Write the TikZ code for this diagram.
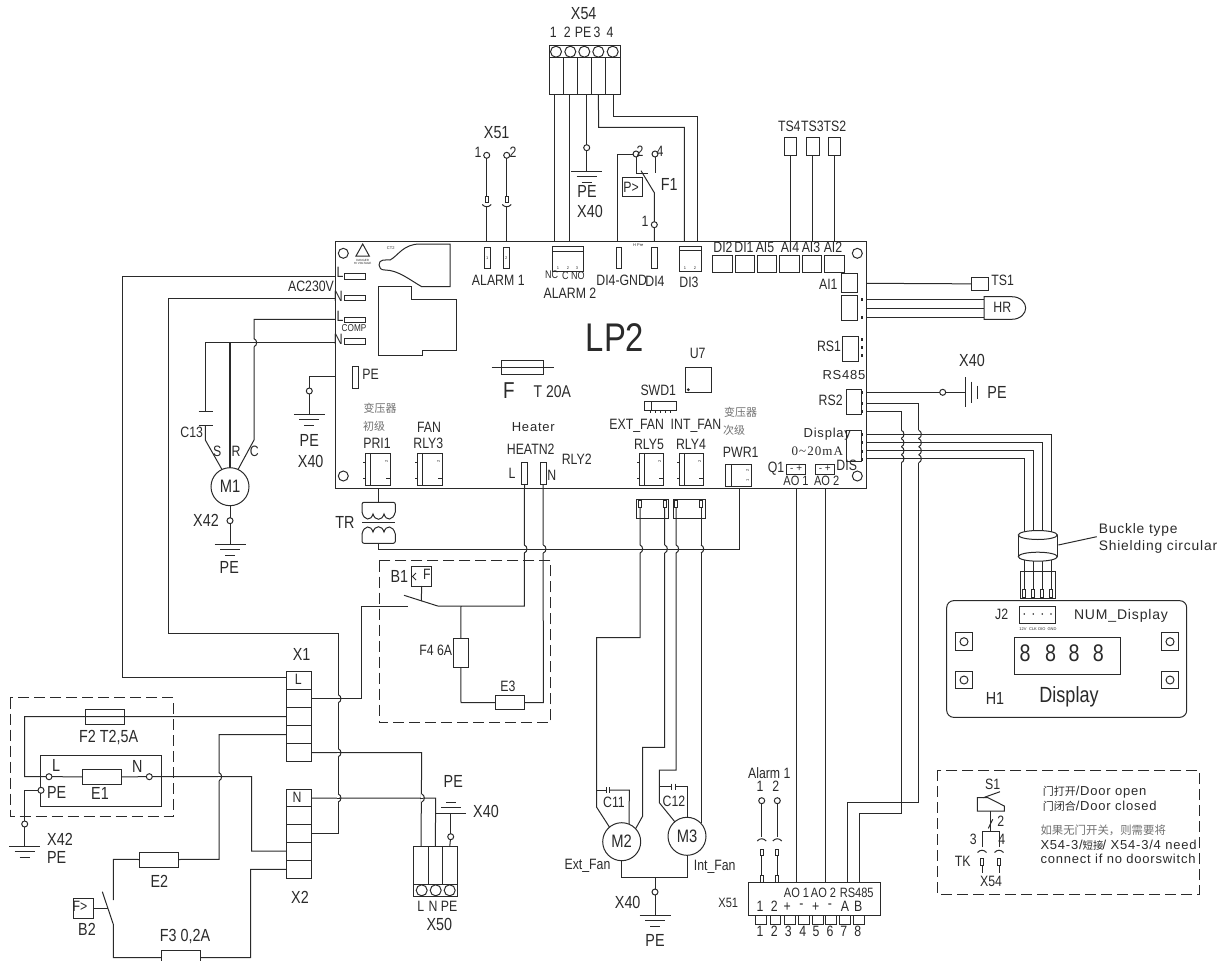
\documentclass[tikz,border=0pt]{standalone}
\usepackage{fontspec}
\setmainfont{Liberation Sans}
\newfontfamily\lblfam[FakeStretch=0.82]{Liberation Sans}
\newfontfamily\widefam[LetterSpace=6]{Liberation Sans}
\newfontfamily\serfam[LetterSpace=8]{Liberation Serif}
\newfontfamily\cjk{Noto Sans CJK SC}
\definecolor{wirecol}{HTML}{2A2A2A}
\definecolor{cjkgray}{HTML}{707070}
\tikzset{
  part/.style={draw, inner sep=0pt, outer sep=0pt},
  term/.style={draw, circle, fill=white, inner sep=0pt, outer sep=0pt, minimum size=6pt},
  screw/.style={draw, circle, inner sep=0pt, outer sep=0pt, minimum size=11pt},
  mount/.style={draw, circle, inner sep=0pt, outer sep=0pt, minimum size=10pt},
  motor/.style={draw, circle, inner sep=0pt, outer sep=0pt, minimum size=38pt, font=\lblfam\fontsize{18}{18}\selectfont},
  lab/.style={inner sep=0pt, font=\lblfam\fontsize{15}{15}\selectfont},
  smlab/.style={inner sep=0pt, font=\lblfam\fontsize{13.5}{14}\selectfont},
  biglab/.style={inner sep=0pt, font=\lblfam\fontsize{17.5}{18}\selectfont},
  widelab/.style={inner sep=0pt, font=\widefam\fontsize{13}{13}\selectfont},
  pinlab/.style={inner sep=0pt, font=\fontsize{4}{4}\selectfont},
  cjklab/.style={inner sep=0pt, text=cjkgray, font=\cjk\fontsize{11}{11}\selectfont},
  doorlab/.style={inner sep=0pt, anchor=west, font=\widefam\fontsize{13}{13}\selectfont},
  earth/.pic={\draw (-15.5,0) -- (15.5,0); \draw (-10,5.5) -- (10,5.5); \draw (-5,11) -- (5,11);},
  cup/.pic={\draw (-4.5,-1.5) .. controls (-2,1.5) and (2,1.5) .. (4.5,-1.5);},
  hop/.pic={\fill[white] (-1,-4) rectangle (1,4); \draw (-1.5,0) -- (1.5,0);
    \draw (0,-4) .. controls (3.5,-3) and (3.5,3) .. (0,4);},
}

\begin{document}
\begin{tikzpicture}[x=1pt,y=-1pt,line width=1pt,color=wirecol]
\clip (0,0) rectangle (1229,961);

\foreach \nm/\xa/\ya/\xb/\yb in {
  board/335/241/866/488, x54a/549/57.7/563.3/94.3, x54b/563.3/57.7/577.3/94.3, x54c/577.3/57.7/591.3/94.3,
  x54d/591.3/57.7/605.3/94.3, x54e/605.3/57.7/620.7/94.3, x54h/549/45/620.7/57.7,
  almx/485.2/196/488.2/202, almy/505.2/196/508.2/202, alma/484.3/247.3/490.3/268.7, almb/503.3/247.3/509.3/268.7,
  alrm/552.3/246.7/583.3/271.7, digd/616/247.3/621.7/268.7, dif/651.7/247.3/657.3/268.7, dith/679.7/246/701.7/271.7,
  pbox/622.3/177.3/642.7/196.7, ts4/784/137.7/796/155.3, ts3/806.7/137.7/819/155.3, ts2/828.7/137.7/840.7/155.3, ts1/971.7/277.7/988.3/290,
  di2/712.7/255.7/732.3/272.3, di1/735.3/255.7/754.7/272.3, ai5/757.3/255.7/776.7/272.3, ai4/779.7/255.7/799.3/272.3,
  ai3/802.3/255.7/821.7/272.3, ai2/824.3/255.7/844/272.3, ai1/841.7/273.3/857.3/292.3, hrc/841.7/295.3/857.3/320,
  rs1/842.7/336.7/858.3/361.3, rs2/846/389.3/861.7/414.3, dis/846.7/430/861.7/461.3, aoa/786.7/464.3/805.7/474.3, aob/815.3/464.3/834.3/474.3,
  slotl/344/273.7/365.7/279.3, slotn/344/295.7/365.7/300.7, slotcl/344/317/365.7/322.3, slotcn/344/338.7/365.7/344.3, slotpe/352.3/366.7/358.3/388.3,
  fuse/501.3/360.3/543.3/374.3, useven/685.3/367/711.3/392.3, swd/644/401.7/676.7/410.7,
  heatl/521.3/462.7/527.7/484.3, heatn/540.3/462.7/546/484.3,
  rlya/636.7/499.3/668.3/518.3, rlyb/673/499.3/705/518.3, slota/638.5/500.7/641.5/507.3, slotb/663.2/500.7/666.2/507.3, slotc/674.5/500.7/677.5/507.3, slotd/699.5/500.7/702.5/507.3,
  bbox/411.7/566.7/431.7/586, ffour/453.3/638.3/468.3/667.7, ethree/495.7/695.3/524.3/709.7,
  x1a/286.7/671.7/311.7/689.7, x1b/286.7/689.7/311.7/707.7, x1c/286.7/707.7/311.7/725.7, x1d/286.7/725.7/311.7/743.7, x1e/286.7/743.7/311.7/761.7,
  x2a/286.7/789/311.7/806, x2b/286.7/806/311.7/824, x2c/286.7/824/311.7/842, x2d/286.7/842/311.7/860, x2e/286.7/860/311.7/878.7,
  ftwo/85/709.3/124/724.3, eone/82.3/769.3/121.3/784.3, einner/40.7/755/161.7/806, etwo/139.3/852/178.3/867, bboxb/73.3/898.3/93.3/918.3, fthree/161.3/950.7/200/964.7,
  x50a/413.7/846/428.3/884, x50b/428.3/846/442.3/884, x50c/442.3/846/457.3/884, x50h/413.7/884/457.3/896.7,
  xblock/748.3/882.7/880.7/915, alx/760.2/849.3/763.2/855, aly/775.8/849.3/778.8/855, alu/760.2/875/763.2/882.7, alv/775.8/875/778.8/882.7,
  pina/755.7/915/766.7/924, pinb/770/915/780.7/924, pinc/784/915/795/924, pind/798/915/809/924, pine/812/915/823/924, pinf/825.7/915/836.7/924, ping/839.3/915/850.7/924, pinh/853.3/915/864.7/924,
  jplug/1020/571.7/1055/598.3, ja/1022.8/589.3/1025.8/597.7, jb/1031.8/589.3/1034.8/597.7, jc/1040.8/589.3/1043.8/597.7, jd/1049.5/589.3/1052.5/597.7,
  jtwo/1019/606/1055.7/623.3, window/1014/637.7/1120.3/674,
  tka/980.5/858.3/983.5/865, tkb/997.5/858.3/1000.5/865
}
  \node[part, minimum width={(\xb-\xa)*1pt}, minimum height={(\yb-\ya)*1pt}] (\nm) at ({(\xa+\xb)/2},{(\ya+\yb)/2}) {};

\node[part, rounded corners=7pt, minimum width=240pt, minimum height=116.7pt] (numdis) at (1066.7,659) {};
\foreach \nm/\xa/\xb in {pri/365.3/390, rlyt/417.3/442, rlyf/639.3/663.3, rlyg/679/703.3} {
  \node[part, minimum width={(\xb-\xa)*1pt}, minimum height=32.4pt] (\nm) at ({(\xa+\xb)/2},469.5) {};
  \draw ([xshift=5.5pt]\nm.north west) -- ([xshift=5.5pt]\nm.south west);
  \draw ([yshift=-9pt]\nm.north west) -- ++(-2.5,0);
  \draw ([yshift=7pt]\nm.south east) -- ++(-4,0);
  \draw ([yshift=7pt]\nm.south west) -- ++(-2.5,0);
  \node[pinlab, rotate=90] (\nm-two) at ([xshift=-3.5pt,yshift=-8pt]\nm.north east) {2};
}
\node[part, minimum width=25.7pt, minimum height=21.7pt] (pwr) at (738.2,475.2) {};
\draw ([xshift=6pt]pwr.north west) -- ([xshift=6pt]pwr.south west);
\node[pinlab, rotate=90] (pwr-two) at ([xshift=-3.5pt,yshift=-6pt]pwr.north east) {2};
\node[pinlab, rotate=90] (pwr-one) at ([xshift=-3.5pt,yshift=6pt]pwr.south east) {1};

\foreach \nm/\x/\y in {
  tXa/486.7/155.3, tXb/506.7/155.3, tPe/586.7/147.7, tFa/636/154, tFb/655/154, tFc/654.3/224.7,
  tMa/230/520.7, tGa/309.3/391, tRs/942.7/392.3, tGb/24.7/824, tEl/49/776.7, tEn/149.3/776.7, tEp/41/790.3,
  tGc/450.7/836.7, tMb/655/892, tAa/761.7/800.7, tAb/777.3/800.7
}
  \node[term] (\nm) at (\x,\y) {};

\foreach \nm/\x/\y in {
  sa/556/51.7, sb/570.3/51.7, sc/584.3/51.7, sd/598.3/51.7, se/612.7/51.7,
  sf/421.7/890.3, sg/435.7/890.3, sh/449.7/890.3
}
  \node[screw] (\nm) at (\x,\y) {};

\foreach \nm/\x/\y in {mha/343.3/253.3, mhb/857.3/253.3, mhc/343.3/476, mhd/857.3/476}
  \node[mount] (\nm) at (\x,\y) {};

\foreach \nm/\x/\y in {boxa/964/641.7, boxb/964/680, boxc/1170/641.7, boxd/1170/680} {
  \node[part, minimum size=17.5pt] (\nm) at (\x,\y) {};
  \node[draw, circle, inner sep=0pt, minimum size=8pt] (\nm-hole) at (\x,\y) {};
}

\foreach \nm/\x/\y in {
  brdL/335/276.3, brdN/335/298.3, brdCL/335/319.3, brdCN/335/342.7, brdPe/335/376.3,
  brdTa/866/283.3, brdHa/866/299, brdHb/866/308, brdHc/866/317, brdRa/866/392.3, brdRb/866/403.3, brdRc/866/411.3,
  brdDa/866/434.3, brdDb/866/442.7, brdDc/866/450.7, brdDd/866/458.7,
  hrA/984/299, hrB/984/308, hrC/984/317, xoneL/286.7/677.7, xtwoN/311.7/798,
  capA/205.3/411, capB/205.3/425, capC/606.7/790, capD/609.3/790, capE/671.7/786.7, capF/675/786.7,
  swAa/408/606, swAb/437.7/606, swAc/404/595.3, swBa/113.3/900, swBb/113.3/924.3, swBc/102.3/891.7,
  rsBar/965.7/392.3
}
  \coordinate (\nm) at (\x,\y);

\node[motor] (mone) at (230,486.7) {M1};
\node[motor] (mtwo) at (621.7,841.7) {M2};
\node[motor] (mthree) at (687,836.3) {M3};

\draw (x54a.south) ++(-2,0) -- ++(0,146.7);
\draw (x54b.south) ++(-1,0) -- ++(0,146.7);
\draw (x54c.south) ++(2.4,0) -- (tPe);
\draw (tPe) -- (586.7,171.3);
\pic at (586.7,171.3) {earth};
\draw (x54d.south) -- (598.7,127.3) -- (684.3,127.3) -- (684.3,241);
\draw (x54e.south) -- (613,116.7) -- (697.7,116.7) -- (697.7,241);

\draw (tXa) -- (almx.north); \draw (tXb) -- (almy.north);
\draw (486.7,207) -- (486.7,241); \draw (506.7,207) -- (506.7,241);
\pic at (486.7,206) {cup}; \pic at (506.7,206) {cup};

\draw (tFa) -- (617.7,154) -- (617.7,241);
\draw (tFa) -- (636,173) -- (648.3,173);
\draw (tFb) -- (655,173);
\draw (641,170.7) -- (654.3,192.7) -- (tFc) -- (tFc |- board.north);

\foreach \nm in {ts4,ts3,ts2}
  \draw (\nm.south) -- (\nm.south |- board.north);

\draw (brdTa) -- (ts1.west);
\draw (brdHa) -- (hrA); \draw (brdHb) -- (hrB); \draw (brdHc) -- (hrC);
\draw (1011.7,296.7) -- (984,296.7) -- (984,319.3) -- (1011.7,319.3) .. controls (1021,319.3) and (1025.7,313) .. (1025.7,308) .. controls (1025.7,303) and (1021,296.7) .. (1011.7,296.7);

\draw (brdRa) -- (tRs) -- (rsBar);
\draw (965.7,377.3) -- (965.7,407.3);
\draw (971.7,381.7) -- (971.7,403.3);
\draw (977.3,385.7) -- (977.3,399);
\draw (brdRb) -- (918.7,403.3) -- (918.7,802.3) -- (847.3,802.3) -- (847.3,882.7);
\draw (brdRc) -- (901.3,411.3) -- (901.3,813.7) -- (859.3,813.7) -- (859.3,882.7);
\draw (brdDa) -| (jd.north);
\draw (brdDb) -| (jc.north);
\draw (brdDc) -| (jb.north);
\draw (brdDd) -| (ja.north);
\foreach \hx in {901.3,918.7}
  \foreach \hy in {434.3,442.7,450.7,458.7}
    \pic at (\hx,\hy) {hop};

\fill[white] (1018.3,535) rectangle (1057.3,556.7);
\draw (1018.3,535) -- (1018.3,556.7); \draw (1057.3,535) -- (1057.3,556.7);
\filldraw[fill=white] (1037.8,535) ellipse [x radius=19.5, y radius=4.5];
\filldraw[fill=white] (1037.8,556.7) ellipse [x radius=19.5, y radius=4.5];
\coordinate (ringEnd) at (1058.3,545);
\coordinate (buckEnd) at (1096.7,536.7);
\draw (ringEnd) -- (buckEnd);

\draw (796.7,488) -- (796.7,882.7);
\draw (825,488) -- (825,882.7);
\draw (tAa) -- (761.7,837); \draw (tAb) -- (777.3,837);
\pic[rotate=180] at (761.7,839.5) {cup}; \pic[rotate=180] at (777.3,839.5) {cup};
\draw (alx.south) -- (alu.north); \draw (aly.south) -- (alv.north);

\draw (brdL) -- (122.7,276.3) -- (122.7,677.7) -- (xoneL);
\draw (x2c.east) -- (338.3,833) -- (338.3,633.7) -- (168.7,633.7) -- (168.7,298.3) -- (brdN);
\draw (brdCL) -- (254,319.3) -- (254,440) -- (mone.65);
\draw (brdCN) -- (205.3,342.7) -- (capA);
\draw ([xshift=-6.7pt]capA) -- ([xshift=7.4pt]capA);
\draw ([xshift=-6.7pt]capB) -- ([xshift=7.4pt]capB);
\draw (capB) -- (205.3,440) -- (mone.115);
\draw[line width=1.4pt] (230,342.7) -- (mone.north);
\pic at (254,342.7) {hop};
\draw (mone.south) -- (tMa) -- (230,544);
\pic at (230,544) {earth};
\draw (brdPe) -- (309.3,376.3) -- (tGa) -- (309.3,414);
\pic at (309.3,414) {earth};

\draw (378.3,488) -- (378.3,502.3);
\draw[rounded corners=2pt] (362,512) -- (362,502.3) -- (395.3,502.3) -- (395.3,512);
\draw (362,512) .. controls (364,521) and (371,521) .. (373,514) .. controls (375,521) and (382,521) .. (384,514) .. controls (386,521) and (393,521) .. (395.3,512);
\draw (362,522.3) -- (395.3,522.3);
\draw (362,534) .. controls (364,525) and (371,525) .. (373,532) .. controls (375,525) and (382,525) .. (384,532) .. controls (386,525) and (393,525) .. (395.3,534);
\draw[rounded corners=2pt] (362,534) -- (362,543.3) -- (395.3,543.3) -- (395.3,534);
\draw (378.3,543.3) -- (378.3,549) -- (739.3,549) -- (739.3,488);

\draw (heatl.south) -- (524.3,606) -- (swAb);
\draw (swAb) -- (swAc);
\draw (x1b.east) -- (361,698.7) -- (361,606) -- (swAa);
\draw (bbox.south) -- (421.3,601);
\draw (461,606) -- (ffour.north);
\draw (ffour.south) -- (461,702.5) -- (ethree.west);
\draw (ethree.east) -- (543.3,702.5) -- (heatn.south);
\pic at (524.3,549) {hop}; \pic at (543.3,549) {hop};
\draw[dash pattern=on 11pt off 5pt] (379,560.7) rectangle (550.7,722.7);

\draw (x1c.west) -- (24.7,716.7) -- (24.7,776.7) -- (tEl) -- (eone.west);
\draw (eone.east) -- (tEn) -- (251.7,776.7) -- (251.7,851) -- (x2d.west);
\draw (tEp) -- (24.7,790.3) -- (tGb) -- (24.7,846);
\pic at (24.7,846) {earth};
\draw (x1d.west) -- (219,734.7) -- (219,859.3) -- (etwo.east);
\pic at (219,776.7) {hop};
\draw (etwo.west) -- (113.3,859.3) -- (swBa);
\draw (swBc) -- (swBb) -- (113.3,957.7) -- (fthree.west);
\draw (bboxb.east) -- (107.5,908.3);
\draw (fthree.east) -- (250.7,957.7) -- (250.7,869.3) -- (x2e.west);
\draw[dash pattern=on 11pt off 5pt] (10,697.7) rectangle (173.3,816);

\draw (x1e.east) -- (421.7,752.7) -- (x50a.north);
\draw (xtwoN) -- (435.7,798) -- (x50b.north);
\draw (tGc) -- (450.7,813.3); \draw (tGc) -- (x50c.north);
\pic[rotate=180] at (450.7,813.3) {earth};
\foreach \hy in {698.7,752.7,798} \pic at (338.3,\hy) {hop};
\pic at (421.7,798) {hop};

\draw (slota.south) -- (640,637.7) -- (596.7,637.7) -- (596.7,807.3) -- (mtwo.130);
\draw (slotb.south) -- (664.7,747.3) -- (642.7,747.3) -- (642.7,816) -- (mtwo.43);
\draw (slotc.south) -- (676,770) -- (659.3,770) -- (659.3,802.7) -- (mthree.130);
\draw (slotd.south) -- (701,822.7);
\foreach \hx in {640,664.7,676,701} \pic at (\hx,549) {hop};
\draw (596.7,790) -- (capC);
\draw (606.7,787) -- (606.7,793); \draw (609.3,787) -- (609.3,793);
\draw (capD) -- (629.3,790) -- (mtwo.67);
\draw (659.3,786.7) -- (capE);
\draw (671.7,783.7) -- (671.7,789.7); \draw (675,783.7) -- (675,789.7);
\draw (capF) -- (687,786.7) -- (mthree.north);
\draw (mtwo.south) -- (621.7,877) -- (687,877) -- (mthree.south);
\draw (655,877) -- (tMb) -- (655,915);
\pic at (655,915) {earth};

% door switch
\draw[dash pattern=on 11pt off 5pt] (937.3,770) rectangle (1199.3,894);
\draw (988,797.7) -- (977.3,797.7) -- (977.3,811) -- (1004.3,811) -- (1004.3,806) -- (988,797.7);
\draw (983.3,797.7) -- (1000,791.7);
\draw (990.7,811) -- (990.7,831);
\draw (988.3,828.3) -- (992.7,819.3);
\draw (982,847) -- (982,831) -- (999,831) -- (999,847);
\pic[rotate=180] at (982,851) {cup}; \pic[rotate=180] at (999,851) {cup};
\draw (tka.south) -- (982,873.3); \draw (tkb.south) -- (999,873.3);

% inner details of the board
\draw (379,265) .. controls (379,259) and (385,260) .. (390,260) .. controls (398,256) and (403,244) .. (420,244) -- (450,244) -- (450,286.7) -- (421.7,286.7) .. controls (410,280) and (398,270) .. (385,270) .. controls (381,270) and (379,268) .. (379,265);
\draw (411.7,286.7) -- (411.7,299.3) -- (456.7,299.3) -- (456.7,350) -- (422.7,350) -- (422.7,355) -- (378.3,355) -- (378.3,286.7) -- (411.7,286.7);
\draw (362.7,244) -- (369.3,256) -- (356,256) -- cycle;
\draw (491.7,367) -- (554.3,367);
\draw (alrm.north west) ++(0,5) -- ++(31,0);
\draw (dith.north west) ++(0,4.7) -- ++(22,0);
\foreach \tx in {650,655,660,665,670} \draw (\tx,410.7) -- (\tx,412.5);
\draw (651,401.7) -- (651,410.7);
\fill (688.3,389.7) circle (1.6pt);
\foreach \ty in {299,317,339,347,355,392,403,411,434,442,451,459}
  \fill (860.5,\ty-1.5) rectangle (863,\ty+1.5);

\foreach \nm/\x/\y/\txt in {
  lNo/553.3/32.7/1, lNt/567.3/32.7/2, lNp/583/32.7/PE, lNh/597/32.7/3, lNf/610/32.7/4,
  lXo/478/152/1, lXt/513/152/2, lFt/640/151/2, lFf/660/151/4, lFo/645/221/1,
  lAlo/498.3/280/ALARM 1, lAlt/570/293.3/ALARM 2, lDg/621.7/280.7/DI4-GND, lDf/655/281.7/DI4, lDh/689/282.7/DI3,
  lTf/789.3/126.7/TS4, lTh/812.3/126.7/TS3, lTt/835/126.7/TS2, lTo/1002.7/280.7/TS1, lHr/1002.3/307.3/HR,
  lDit/723/247/DI2, lDio/744/247/DI1, lAif/765/247/AI5, lAiv/790/247/AI4, lAih/811/247/AI3, lAit/833/247/AI2, lAio/828.3/284/AI1,
  lRo/829/346.7/RS1, lRt/830.7/400/RS2,
  lUs/697.7/353.3/U7, lSw/658.3/390/SWD1, lEf/636.7/425.7/EXT\_FAN, lIf/696/425.7/INT\_FAN, lRf/649/444/RLY5, lRg/691/444/RLY4,
  lPri/377/443.3/PRI1, lFan/429/427.3/FAN, lRy/428.3/443.3/RLY3, lHn/530.7/449.3/HEATN2, lRb/576.7/459.3/RLY2, lHl/512/473.3/L, lHm/551.7/475/N,
  lPw/740.7/452.3/PWR1, lQo/776/469/Q1, lDs/846.7/465.7/DIS,
  lPb/370.7/374.3/PE, lLa/340/272/L, lNa/338.3/296/N, lLb/340/316/L, lNb/338.3/339/N, lAc/311/286/AC230V,
  lC/191.7/432.3/C13, lS/217.3/451.7/S, lR/236/451.7/R, lCc/254.3/451.7/C,
  lFi/427/574/F, lFv/435.7/650/F4 6A, lEt/508/686/E3,
  lXl/298.3/679.3/L, lXn/297/797.5/N,
  lFb/80/906/F>, lPf/631/187/P>,
  lXa/420.7/906/L, lXb/433/906/N, lXc/449/906/PE,
  lMt/587.5/866/Ext\_Fan, lMh/714.7/867/Int\_Fan, lCe/614/802.7/C11, lCt/674/801/C12,
  lAlm/769.3/773.3/Alarm 1, lAo/760/786.7/1, lAw/775.7/786.7/2,
  lBa/760/906.7/1, lBb/774.3/906.7/2, lBc/787.3/906.7/+, lBd/801.3/906.7/-, lBe/815.7/906.7/+, lBf/830/906.7/-, lBg/845/906.7/A, lBh/858.3/906.7/B,
  lOa/760/931/1, lOb/774.3/931/2, lOc/788.3/931/3, lOd/802.7/931/4, lOe/816/931/5, lOf/830/931/6, lOg/843.7/931/7, lOh/857.7/931/8,
  lSi/992.7/784/S1, lSt/1000.7/821/2, lSa/973.3/839.3/3, lSb/1001.7/839.3/4, lTk/962.7/861.7/TK, lSx/991/881/X54,
  lJt/1001.7/614/J2
}
  \node[lab] (\nm) at (\x,\y) {\txt};

\foreach \nm/\x/\y/\txt in {
  sAa/796/480.7/AO 1, sAb/826.7/480.7/AO 2, sCa/796.5/892.7/AO 1, sCb/823.5/892.7/AO 2, sRs/856.7/892.7/RS485, sXs/728.3/903.3/X51
}
  \node[smlab] (\nm) at (\x,\y) {\txt};

\foreach \nm/\x/\y/\txt in {
  bXf/583.7/13.3/X54, bXo/496.7/132.7/X51, bH/995/698.3/H1, bFone/669.3/184/F1,
  bPe/587/191/PE, bXm/590/211/X40, bGr/997/392/PE, bGx/972/360/X40,
  bPg/309.3/440/PE, bXg/310.7/461/X40, bMe/229.3/567.3/PE, bXe/206/520/X42,
  bTr/345/522/TR, bBo/399.3/576.7/B1, bXone/301.7/654/X1, bXtwo/300/897/X2,
  bFtt/108.7/738/{F2 T2,5A}, bEl/56/765.3/L, bEn/137.3/766/N, bEpe/56.7/792.7/PE, bEo/100/793.3/E1, bXq/60/839.3/X42, bPq/56.7/857.7/PE,
  bEs/159.3/881.7/E2, bFr/185/936/{F3 0,2A}, bBt/87/929.3/B2,
  bPu/453.3/781.7/PE, bXu/486/811.7/X40, bXd/439.3/924.3/X50, bGe/627.7/902/X40, bGp/655/940/PE
}
  \node[biglab] (\nm) at (\x,\y) {\txt};

\foreach \nm/\x in {eOne/1025, eTwo/1050.7, eThr/1074, eFou/1098.3}
  \node[inner sep=0pt, font=\lblfam\fontsize{24}{24}\selectfont] (\nm) at (\x,653.3) {8};

\node[inner sep=0pt, font=\lblfam\fontsize{40}{40}\selectfont] (lpt) at (615,338) {LP2};
\node[inner sep=0pt, font=\lblfam\fontsize{23}{23}\selectfont] (lfuse) at (509,390.3) {F};
\node[inner sep=0pt, font=\lblfam\fontsize{17}{17}\selectfont] (lamp) at (552.3,391.7) {T 20A};
\node[inner sep=0pt, font=\lblfam\fontsize{22}{22}\selectfont] (ldisp) at (1069,696.7) {Display};

\foreach \nm/\x/\y/\txt in {
  wRs/844/375.3/RS485, wDp/827.3/434.3/Display, wHt/533.3/426.7/Heater
}
  \node[widelab] (\nm) at (\x,\y) {\txt};
\node[inner sep=0pt, font=\serfam\fontsize{13}{13}\selectfont] (wMa) at (817.3,451.7) {0\textasciitilde 20mA};
\node[inner sep=0pt, font=\widefam\fontsize{14}{14}\selectfont] (wNum) at (1121,615.7) {NUM\_Display};
\node[doorlab, font=\widefam\fontsize{13.8}{14}\selectfont] (wBa) at (1098.3,530) {Buckle type};
\node[doorlab, font=\widefam\fontsize{13.8}{14}\selectfont] (wBb) at (1098.3,546.7) {Shielding circular};

\foreach \nm/\x/\y/\txt in {
  cPa/380/408.3/变压器, cPb/374/426.7/初级, cSa/740.7/412.3/变压器, cSb/734/430.7/次级
}
  \node[cjklab] (\nm) at (\x,\y) {\txt};

\foreach \nm/\x/\y/\txt in {
  dA/1042.3/792.3/{{\cjk\fontsize{11}{11}\selectfont 门打开}/Door open},
  dB/1042.3/806/{{\cjk\fontsize{11}{11}\selectfont 门闭合}/Door closed},
  dC/1040/830.7/{{\cjk\fontsize{11.4}{11}\selectfont\color{cjkgray} 如果无门开关，则需要将}},
  dD/1040/845/{X54-3/{\cjk\fontsize{10.5}{11}\selectfont 短接}\kern-1pt/ X54-3/4 need},
  dE/1040/859/{connect if no doorswitch}
}
  \node[doorlab] (\nm) at (\x,\y) {\txt};

\foreach \nm/\x/\y/\txt in {
  pCt/390.7/248/CT2, pHp/638.3/245/H Pre, pAa/558/268/1, pAb/568/268/2, pAc/577/268/3,
  pDa/685/268/1, pDb/695/268/2, pJa/1023/629/12V, pJb/1033/629/CLK, pJc/1042/629/DIO, pJd/1052/629/GND, pAl/487.3/258/1, pAm/506.3/258/2
}
  \node[pinlab] (\nm) at (\x,\y) {\txt};
\node[pinlab, font=\fontsize{3}{3}\selectfont, align=center] (pDan) at (362.7,262) {DANGER\\HI VOLTAGE};
\node[pinlab, font=\lblfam\fontsize{10}{10}\selectfont] (pCo) at (354,328) {COMP};
\node[pinlab, font=\lblfam\fontsize{11}{11}\selectfont] (pNe) at (551.7,274.5) {NC};
\node[pinlab, font=\lblfam\fontsize{11}{11}\selectfont] (pCe) at (573.3,275.5) {C NO};
\node[pinlab, font=\fontsize{10}{10}\selectfont] (pAoa) at (796.2,469) {- +};
\node[pinlab, font=\fontsize{10}{10}\selectfont] (pAob) at (824.8,469) {- +};
\foreach \nm/\x in {jdA/1024.3, jdB/1033.3, jdC/1042.3, jdD/1051}
  \fill (\x,614) circle (0.9pt);
\draw (416,573) -- (412.5,576.5) -- (416,580);
\end{tikzpicture}
\end{document}
